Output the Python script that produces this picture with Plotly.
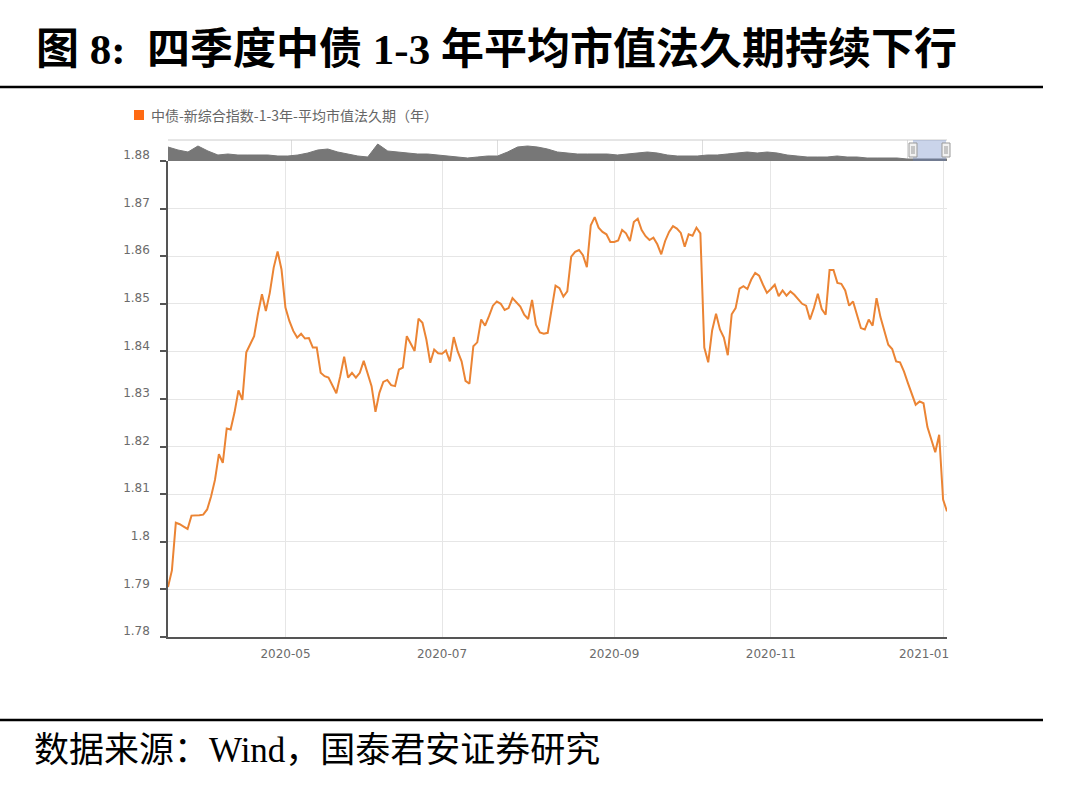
import pandas as pd
import plotly.graph_objects as go

# ---------------- data ----------------
start_date = "2020-03-20"
end_date = "2021-01-05"
market_holidays = ["2020-04-06", "2020-05-01", "2020-05-04", "2020-05-05",
                   "2020-06-25", "2020-06-26", "2020-10-01", "2020-10-02",
                   "2020-10-05", "2020-10-06", "2020-10-07", "2020-10-08",
                   "2021-01-01"]
makeup_workdays = ["2020-04-26", "2020-05-09", "2020-06-28", "2020-09-27",
                   "2020-10-10"]

duration = [
    1.7905, 1.7940, 1.8040, 1.8037, 1.8032, 1.8027, 1.8055, 1.8055, 1.8056, 1.8057,
    1.8068, 1.8095, 1.8130, 1.8184, 1.8166, 1.8238, 1.8236, 1.8272, 1.8318, 1.8298,
    1.8398, 1.8415, 1.8432, 1.8480, 1.8520, 1.8485, 1.8523, 1.8576, 1.8610, 1.8572,
    1.8492, 1.8464, 1.8443, 1.8429, 1.8437, 1.8427, 1.8428, 1.8408, 1.8408, 1.8355,
    1.8348, 1.8345, 1.8327, 1.8312, 1.8348, 1.8389, 1.8345, 1.8355, 1.8345, 1.8355,
    1.8380, 1.8352, 1.8327, 1.8273, 1.8313, 1.8336, 1.8340, 1.8329, 1.8327, 1.8362,
    1.8366, 1.8432, 1.8415, 1.8401, 1.8469, 1.8460, 1.8425, 1.8376, 1.8404, 1.8396,
    1.8395, 1.8402, 1.8379, 1.8430, 1.8400, 1.8379, 1.8338, 1.8332, 1.8411, 1.8419,
    1.8467, 1.8454, 1.8474, 1.8496, 1.8505, 1.8500, 1.8487, 1.8491, 1.8512, 1.8503,
    1.8494, 1.8477, 1.8468, 1.8508, 1.8456, 1.8440, 1.8437, 1.8439, 1.8487, 1.8538,
    1.8533, 1.8515, 1.8526, 1.8599, 1.8609, 1.8613, 1.8602, 1.8577, 1.8665, 1.8682,
    1.8660, 1.8651, 1.8646, 1.8630, 1.8630, 1.8633, 1.8655, 1.8648, 1.8632, 1.8672,
    1.8679, 1.8655, 1.8642, 1.8634, 1.8639, 1.8625, 1.8604, 1.8632, 1.8651, 1.8663,
    1.8658, 1.8649, 1.8620, 1.8646, 1.8643, 1.8660, 1.8648, 1.8408, 1.8377, 1.8444,
    1.8479, 1.8446, 1.8429, 1.8392, 1.8478, 1.8491, 1.8532, 1.8537, 1.8531, 1.8551,
    1.8565, 1.8559, 1.8540, 1.8523, 1.8531, 1.8540, 1.8516, 1.8528, 1.8517, 1.8526,
    1.8519, 1.8509, 1.8500, 1.8496, 1.8467, 1.8491, 1.8521, 1.8489, 1.8477, 1.8571,
    1.8571, 1.8544, 1.8542, 1.8528, 1.8496, 1.8505, 1.8477, 1.8449, 1.8446, 1.8467,
    1.8454, 1.8512, 1.8472, 1.8440, 1.8414, 1.8405, 1.8379, 1.8377, 1.8358, 1.8334,
    1.8312, 1.8288, 1.8295, 1.8291, 1.8241, 1.8213, 1.8188, 1.8225, 1.8089, 1.8064,
]

# overview (navigator) series, relative level
navigator_level = [
    14, 11, 9, 15, 10, 6, 7, 6, 6, 6, 6, 5, 5, 6, 8, 11, 12, 9, 7, 5,
    4, 17, 10, 9, 8, 7, 7, 6, 5, 4, 3, 4, 5, 5, 9, 14, 15, 14, 12, 9,
    8, 7, 7, 7, 7, 6, 7, 8, 9, 8, 6, 5, 5, 5, 6, 6, 7, 8, 9, 8,
    9, 8, 6, 5, 4, 4, 4, 5, 4, 4, 3, 3, 3, 3, 2, 2, 2, 2, 2,
]

x_tick_labels = ["2020-05", "2020-07", "2020-09", "2020-11", "2021-01"]
y_tick_values = [1.78, 1.79, 1.80, 1.81, 1.82, 1.83, 1.84, 1.85, 1.86, 1.87, 1.88]
y_tick_labels = ["1.78", "1.79", "1.8", "1.81", "1.82", "1.83", "1.84", "1.85",
                 "1.86", "1.87", "1.88"]

series_name = "中债-新综合指数-1-3年-平均市值法久期（年）"
title_text = "图 8:  四季度中债 1-3 年平均市值法久期持续下行"
source_text = "数据来源：Wind，国泰君安证券研究"

# ---------------- trading-day categories ----------------
days = pd.bdate_range(start_date, end_date)
days = days[~days.isin(pd.to_datetime(market_holidays))]
days = days.append(pd.DatetimeIndex(pd.to_datetime(makeup_workdays))).sort_values()
dates = [d.strftime("%Y-%m-%d") for d in days][:len(duration)]

tick_dates = [next(d for d in dates if d.startswith(lbl)) for lbl in x_tick_labels]
tick_text = list(x_tick_labels)
tick_text[-1] = tick_text[-1] + "\u00a0" * 10  # last label pulled inside like the original

W, H = 1080, 798
def px(x):
    return x / W
def py(y):
    return 1 - y / H

X0, X1 = 168, 947
Y_TOP, Y_BOT = 161, 637
NAV_TOP = 140

fig = go.Figure()

fig.add_trace(go.Scatter(
    x=list(range(len(navigator_level))), y=navigator_level,
    xaxis="x2", yaxis="y2", mode="lines", fill="tozeroy",
    line=dict(color="#777777", width=1), fillcolor="#777777",
    hoverinfo="skip", showlegend=False))

fig.add_trace(go.Scatter(
    x=dates, y=duration, mode="lines", name=series_name,
    line=dict(color="#EB8434", width=2), showlegend=False))

tick_font = dict(family="DejaVu Sans", size=12, color="#6b6b6b")

fig.update_layout(
    width=W, height=H, autosize=False,
    margin=dict(l=0, r=0, t=0, b=0, pad=0, autoexpand=False),
    showlegend=False,
    paper_bgcolor="white", plot_bgcolor="white",
    xaxis=dict(
        type="category", domain=[px(X0), px(X1)], range=[0, len(dates) - 1],
        tickmode="array", tickvals=tick_dates, ticktext=tick_text,
        showgrid=True, gridcolor="#e6e6e6", gridwidth=1,
        showline=True, linecolor="#555555", linewidth=1.5,
        ticks="", tickfont=tick_font, ticklabelstandoff=5, anchor="y",
        zeroline=False, automargin=False,
    ),
    yaxis=dict(
        domain=[py(Y_BOT), py(Y_TOP)], range=[1.78, 1.88],
        tickmode="array", tickvals=y_tick_values, ticktext=y_tick_labels,
        showgrid=True, gridcolor="#e6e6e6", gridwidth=1,
        showline=True, linecolor="#555555", linewidth=1.5,
        ticks="outside", ticklen=6, tickcolor="#555555", tickwidth=1.5,
        tickfont=tick_font, ticklabelstandoff=8, ticklabelshift=-6,
        zeroline=False, anchor="x", automargin=False,
    ),
    xaxis2=dict(
        domain=[px(X0), px(X1)], range=[0, len(navigator_level) - 1],
        anchor="y2", showticklabels=False, ticks="",
        tickmode="array", tickvals=[12.4, 33.0, 53.5, 74.0],
        showgrid=True, gridcolor="#dddddd", showline=False, zeroline=False,
        automargin=False,
    ),
    yaxis2=dict(
        domain=[py(Y_TOP), py(NAV_TOP)], range=[0, 21],
        visible=False, anchor="x2", automargin=False,
    ),
)

shapes = []
shapes.append(dict(type="line", xref="paper", yref="paper",
                   x0=px(X0), x1=px(X1), y0=py(NAV_TOP), y1=py(NAV_TOP),
                   line=dict(color="#cccccc", width=1)))
shapes.append(dict(type="rect", xref="paper", yref="paper",
                   x0=px(913), x1=px(946), y0=py(Y_TOP), y1=py(NAV_TOP),
                   fillcolor="rgba(102,133,194,0.35)", line=dict(width=0)))
for hx in (913, 946):
    shapes.append(dict(type="rect", xref="paper", yref="paper",
                       x0=px(hx - 4), x1=px(hx + 4), y0=py(157), y1=py(143),
                       fillcolor="#f2f2f2", line=dict(color="#999999", width=1)))
    for lx in (hx - 1, hx + 1):
        shapes.append(dict(type="line", xref="paper", yref="paper",
                           x0=px(lx), x1=px(lx), y0=py(154), y1=py(146),
                           line=dict(color="#999999", width=1)))
shapes.append(dict(type="rect", xref="paper", yref="paper",
                   x0=px(134), x1=px(144), y0=py(120), y1=py(110),
                   fillcolor="#FF6A13", line=dict(width=0)))
shapes.append(dict(type="line", xref="paper", yref="paper",
                   x0=0, x1=px(1043), y0=py(87), y1=py(87),
                   line=dict(color="black", width=2.5)))
shapes.append(dict(type="line", xref="paper", yref="paper",
                   x0=0, x1=px(1043), y0=py(720), y1=py(720),
                   line=dict(color="black", width=2.5)))
fig.update_layout(shapes=shapes)

annotations = [
    dict(text=series_name, xref="paper", yref="paper", x=px(149), y=py(115),
         xanchor="left", yanchor="middle", showarrow=False,
         font=dict(family="Noto Sans CJK SC", size=14, color="#666666")),
    dict(text="<b>" + title_text + "</b>", xref="paper", yref="paper",
         x=px(34), y=py(50), xanchor="left", yanchor="middle", showarrow=False,
         font=dict(family="Liberation Serif, Noto Sans CJK SC", size=43, color="black")),
    dict(text=source_text, xref="paper", yref="paper",
         x=px(32), y=py(750), xanchor="left", yanchor="middle", showarrow=False,
         font=dict(family="Liberation Serif, Noto Sans CJK SC", size=35, color="black")),
]
fig.update_layout(annotations=annotations)

fig.write_html(
    "out.html",
    config={"responsive": False, "displayModeBar": False},
    post_script="document.body.style.margin='0';document.body.style.overflow='hidden';",
)
